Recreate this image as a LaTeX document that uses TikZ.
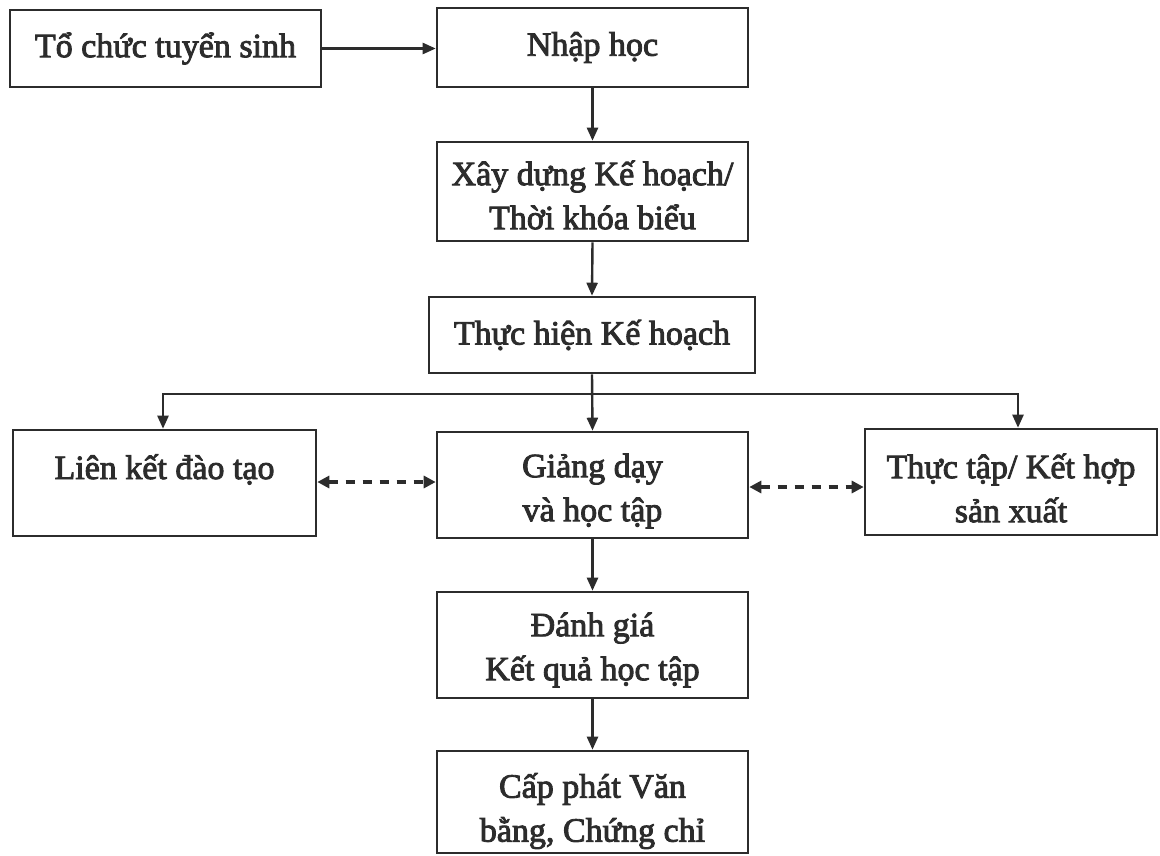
\documentclass[tikz,border=0pt]{standalone}
\usepackage{fontspec}
\setmainfont[FakeBold=2.6]{Liberation Serif}
\usetikzlibrary{arrows.meta}
\definecolor{ink}{HTML}{2C2C2C}
\tikzset{
  box/.style={draw=ink, line width=2.6pt, inner sep=0pt},
  conn/.style={draw=ink, line width=2.4pt, -{Triangle[length=13pt,width=11pt]}},
  dconn/.style={draw=ink, line width=3.2pt, dash pattern=on 9pt off 8pt,
    {Triangle[length=12pt,width=12pt]}-{Triangle[length=12pt,width=12pt]}},
  lbl/.style={text=ink, font=\fontsize{34}{44}\selectfont, inner sep=0pt, align=center}
}
\begin{document}
\begin{tikzpicture}[x=1pt,y=-1pt]
\useasboundingbox[fill=white] (0,0) rectangle (1160,855);
\node[box, minimum width=311, minimum height=77] (tuyen) at (165.5,48.5) {};
\node[lbl] (tuyent) at (165.5,48.5) {Tổ chức tuyển sinh};
\node[box, minimum width=311, minimum height=79] (nhap) at (592.5,47.5) {};
\node[lbl] (nhapt) at (592.5,47.5) {Nhập học};
\node[box, minimum width=311, minimum height=99] (xd) at (592.5,191.5) {};
\node[lbl] (xdt) at (592.5,195) {Xây dựng Kế hoạch/\\Thời khóa biểu};
\node[box, minimum width=326, minimum height=76] (th) at (592,335) {};
\node[lbl] (tht) at (592,335) {Thực hiện Kế hoạch};
\node[box, minimum width=303, minimum height=106] (lk) at (164.5,483) {};
\node[lbl, anchor=base] (lkt) at (164.5,479) {Liên kết đào tạo};
\node[box, minimum width=311, minimum height=106] (gd) at (592.5,485) {};
\node[lbl] (gdt) at (592.5,491) {Giảng dạy\\và học tập};
\node[box, minimum width=292, minimum height=106] (tt) at (1011,482) {};
\node[lbl] (ttt) at (1011,488) {Thực tập/ Kết hợp\\sản xuất};
\node[box, minimum width=311, minimum height=106] (dg) at (592.5,645) {};
\node[lbl] (dgt) at (592.5,650) {Đánh giá\\Kết quả học tập};
\node[box, minimum width=311, minimum height=102] (cp) at (592.5,802) {};
\node[lbl] (cpt) at (592.5,811) {Cấp phát Văn\\bằng, Chứng chỉ};
\coordinate (split) at (593,394);
\draw[conn] (tuyen.east) -- (tuyen.east -| nhap.west);
\draw[conn] (nhap.south) -- (xd.north);
\draw[conn] (xd.south) -- (th.north);
\draw[conn] (th.south) -- (gd.north);
\draw[conn] (split) -| ([xshift=-1.5pt]lk.north);
\draw[conn] (split) -| ([xshift=7pt]tt.north);
\draw[dconn] ([yshift=1pt]lk.east) -- ([yshift=1pt]lk.east -| gd.west);
\draw[dconn] ([yshift=-2pt]gd.east) -- ([yshift=-2pt]gd.east -| tt.west);
\draw[conn] (gd.south) -- (dg.north);
\draw[conn] (dg.south) -- (cp.north);
\end{tikzpicture}
\end{document}
